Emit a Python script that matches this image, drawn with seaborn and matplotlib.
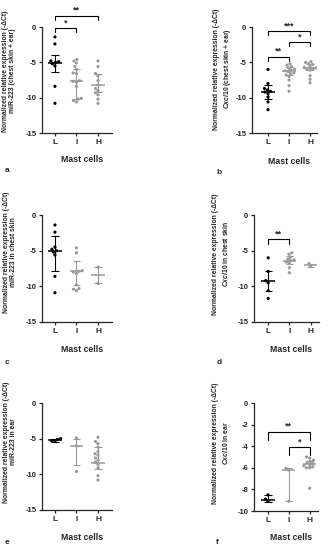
import numpy as np
import pandas as pd
import matplotlib
matplotlib.use('Agg')
import matplotlib.pyplot as plt
import seaborn as sns

groups = ['L', 'I', 'H']

# a: miR-223, chest skin + ear
a_L = [-1.4, -2.4, -4.8, -4.9, -5.0, -5.2, -5.5, -8.4, -10.8]
a_I = [-4.6, -4.8, -5.1, -5.6, -6.0, -6.5, -6.6, -7.6, -7.7, -7.8, -8.4, -10.1, -10.2, -10.4, -10.6]
a_H = [-4.8, -5.6, -6.6, -6.9, -7.6, -8.2, -8.7, -9.0, -9.3, -9.6, -10.2, -10.8]
a_mid = [-5.05, -7.7, -8.2]
a_hi = [-4.0, -5.9, -6.7]
a_lo = [-6.3, -10.2, -9.2]

# b: Cxcl10, chest skin + ear
b_L = [-6.0, -8.0, -8.7, -8.9, -9.1, -9.2, -9.4, -9.9, -10.6, -11.7]
b_I = [-5.2, -5.4, -5.6, -5.8, -6.0, -6.1, -6.2, -6.3, -6.5, -6.6, -6.8, -7.0, -7.5, -8.3, -9.1]
b_H = [-4.9, -5.0, -5.2, -5.3, -5.5, -5.6, -5.7, -5.8, -5.9, -6.0, -6.1, -6.9, -7.4, -7.9]
b_mid = [-9.15, -6.2, -5.8]
b_hi = [-8.2, -5.6, -5.3]
b_lo = [-10.2, -6.8, -6.1]

# c: miR-223, chest skin
c_L = [-1.4, -2.4, -4.5, -4.8, -5.0, -5.2, -5.6, -8.6, -10.9]
c_I = [-4.6, -5.3, -7.8, -7.9, -8.0, -8.2, -9.8, -10.3, -10.4, -10.6]
c_H = [-7.3, -9.6]
c_mid = [-5.0, -7.9, -8.45]
c_hi = [-3.0, -6.4, -7.3]
c_lo = [-7.8, -9.8, -9.6]

# d: Cxcl10, chest skin
d_L = [-6.0, -7.9, -9.2, -9.5, -10.6, -11.7]
d_I = [-5.3, -5.5, -5.9, -6.2, -6.3, -6.4, -6.6, -6.8, -7.4, -8.1]
d_H = [-6.8, -7.2]
d_mid = [-9.2, -6.4, -7.0]
d_hi = [-7.9, -5.8, -6.8]
d_lo = [-10.7, -6.9, -7.3]

# e: miR-223, ear
e_L = [-5.0, -5.1, -5.3, -5.4]
e_I = [-4.9, -6.0, -9.6]
e_H = [-4.8, -5.4, -5.7, -6.2, -6.8, -7.1, -7.3, -7.7, -8.0, -8.3, -8.6, -9.1, -10.2, -10.8]
e_mid = [-5.2, -6.0, -8.35]
e_hi = [-5.0, -5.1, -6.2]
e_lo = [-5.4, -8.7, -9.2]

# f: Cxcl10, ear
f_L = [-8.5, -8.9, -9.1]
f_I = [-6.05, -6.2, -9.1]
f_H = [-5.0, -5.1, -5.3, -5.4, -5.5, -5.6, -5.7, -5.8, -5.9, -6.0, -6.0, -7.9]
f_mid = [-8.95, -6.2, -5.65]
f_hi = [-8.5, -6.05, -5.35]
f_lo = [-9.15, -9.05, -5.95]

# significance brackets: (from, to, height, stars)
a_sig = [('L', 'I', -0.15, '*'), ('L', 'H', 1.6, '**')]
b_sig = [('L', 'H', -0.55, '***'), ('I', 'H', -2.1, '*'), ('L', 'I', -4.2, '**')]
c_sig = []
d_sig = [('L', 'I', -3.4, '**')]
e_sig = []
f_sig = [('L', 'H', -2.65, '**'), ('I', 'H', -4.1, '*')]

ylab_mir = ['Normalized relative expression (-\u0394Ct)\nmiR-223 (chest skin + ear)',
            'Normalized relative expression (-\u0394Ct)\nmiR-223 in chest skin',
            'Normalized relative expression (-\u0394Ct)\nmiR-223 in ear']
ylab_cxcl = ['Normalized relative expression (-\u0394Ct)\n$\\it{Cxcl10}$ (chest skin + ear)',
             'Normalized relative expression (-\u0394Ct)\n$\\it{Cxcl10}$ in chest skin',
             'Normalized relative expression (-\u0394Ct)\n$\\it{Cxcl10}$ in ear']

sns.set_style('ticks')
plt.rcParams['font.family'] = ['Liberation Sans', 'DejaVu Sans']
plt.rcParams['font.weight'] = 'bold'
plt.rcParams['mathtext.fontset'] = 'custom'
plt.rcParams['mathtext.it'] = 'Liberation Sans:italic:bold'
plt.rcParams['mathtext.rm'] = 'Liberation Sans:bold'

W, H = 328, 550
fig = plt.figure(figsize=(W / 100, H / 100), dpi=100)

gray = '#9a9a9a'
colors = {'L': 'black', 'I': gray, 'H': gray}

# pixel layout per panel: left, right, top of axes, y of 0, y of ymin
panels = [
    ('a', a_L, a_I, a_H, a_mid, a_hi, a_lo, a_sig, ylab_mir[0], -15, [0, -5, -10, -15], 42, 112, 2, 27, 133, (-0.6, 2.65), 9, 71, 160),
    ('b', b_L, b_I, b_H, b_mid, b_hi, b_lo, b_sig, ylab_cxcl[0], -15, [0, -5, -10, -15], 252, 317, 2, 27, 133, (-0.76, 2.33), 223, 69, 162),
    ('c', c_L, c_I, c_H, c_mid, c_hi, c_lo, c_sig, ylab_mir[1], -15, [0, -5, -10, -15], 42, 112, 190, 215, 322, (-0.6, 2.65), 10, 252, 349),
    ('d', d_L, d_I, d_H, d_mid, d_hi, d_lo, d_sig, ylab_cxcl[1], -15, [0, -5, -10, -15], 254, 319, 190, 215, 322, (-0.67, 2.4), 221, 254, 350),
    ('e', e_L, e_I, e_H, e_mid, e_hi, e_lo, e_sig, ylab_mir[2], -15, [0, -5, -10, -15], 42, 112, 378, 403, 510, (-0.6, 2.65), 10, 442, 537),
    ('f', f_L, f_I, f_H, f_mid, f_hi, f_lo, f_sig, ylab_cxcl[2], -10, [0, -2, -4, -6, -8, -10], 254, 318, 378, 403, 511, (-0.67, 2.4), 221, 443, 537),
]
letter_pos = {'a': (5, 171), 'b': (216, 172), 'c': (5, 362), 'd': (217, 362), 'e': (5, 543), 'f': (216, 543)}

for (letter, L, I, Hh, mid, hi, lo, sig, ylab, ymin, yticks,
     left, right, top_px, y0px, yminpx, xlim, lx, ly, mcy) in panels:
    ppu = (yminpx - y0px) / (-ymin)
    top_val = (y0px - top_px) / ppu
    ax = fig.add_axes([left / W, 1 - yminpx / H, (right - left) / W, (yminpx - top_px) / H])
    ax.patch.set_alpha(0)

    df = pd.DataFrame({
        'group': ['L'] * len(L) + ['I'] * len(I) + ['H'] * len(Hh),
        'value': L + I + Hh,
    })
    sns.swarmplot(data=df, x='group', y='value', hue='group', order=groups,
                  palette=colors, size=2.3, linewidth=0, legend=False, ax=ax, zorder=2)

    # median and range bars
    for i, g in enumerate(groups):
        col = colors[g]
        ax.hlines(mid[i], i - 0.32, i + 0.32, color=col, lw=1.1, zorder=3)
        ax.vlines(i, lo[i], hi[i], color=col, lw=0.8, zorder=3)
        ax.hlines([lo[i], hi[i]], i - 0.17, i + 0.17, color=col, lw=0.8, zorder=3)

    # significance brackets
    drop = 0.6 if ymin == -15 else 0.75
    for g1, g2, yb, stars in sig:
        x1, x2 = groups.index(g1), groups.index(g2)
        ax.plot([x1, x1, x2, x2], [yb - drop, yb, yb, yb - drop], color='black', lw=0.8,
                clip_on=False)
        ax.text((x1 + x2) / 2, yb + 0.1, stars, ha='center', va='bottom', fontsize=6.5,
                fontweight='bold')

    ax.set_xlim(*xlim)
    ax.set_ylim(ymin, top_val)
    ax.set_yticks(yticks)
    ax.set_yticklabels([str(t) for t in yticks])
    ax.set_xticks(range(3))
    ax.set_xticklabels(groups)
    ax.set_xlabel('')
    ax.set_ylabel('')
    sns.despine(ax=ax)
    ax.spines['left'].set_bounds(ymin, 0)
    ax.spines['left'].set_linewidth(0.9)
    ax.spines['bottom'].set_linewidth(0.9)
    ax.tick_params(axis='both', length=2.5, width=0.9, pad=1.5, labelsize=5.5)
    for t in ax.get_xticklabels() + ax.get_yticklabels():
        t.set_fontweight('bold')
    ax.tick_params(axis='x', labelsize=6)

    fig.text(lx / W, 1 - ly / H, ylab, rotation=90, ha='center', va='center',
             multialignment='center', fontsize=4.9, fontweight='bold', linespacing=1.15)
    fig.text(((left + right) / 2 + 5) / W, 1 - mcy / H, 'Mast cells', ha='center', va='center',
             fontsize=6.3, fontweight='bold')
    px, py = letter_pos[letter]
    fig.text(px / W, 1 - py / H, letter, ha='left', va='center', fontsize=6, fontweight='bold')

fig.savefig('out.png', dpi=100)
